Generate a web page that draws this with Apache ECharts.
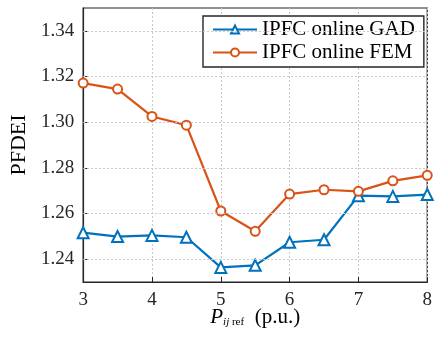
<!DOCTYPE html>
<html>
<head>
<meta charset="utf-8">
<script src="https://cdn.jsdelivr.net/npm/echarts@6/dist/echarts.min.js"></script>
<style>html,body{margin:0;padding:0;background:#fff;}#c{width:435px;height:338px;}</style>
</head>
<body>
<div id="c"></div>
<script>
const xValues = [3, 3.5, 4, 4.5, 5, 5.5, 6, 6.5, 7, 7.5, 8];
const gadValues = [1.2516, 1.2499, 1.2504, 1.2496, 1.2364, 1.2373, 1.2474, 1.2485, 1.2678, 1.2675, 1.2683];
const femValues = [1.3171, 1.3145, 1.3025, 1.2987, 1.2611, 1.2522, 1.2685, 1.2704, 1.2697, 1.2743, 1.2767];
const yTicks = [1.24, 1.26, 1.28, 1.30, 1.32, 1.34];
const xTicks = [3, 4, 5, 6, 7, 8];
const seriesNames = ['IPFC online GAD', 'IPFC online FEM'];

const FONT = "'Liberation Serif', 'Times New Roman', serif";
const BLUE = '#0072BD';
const ORANGE = '#D95319';
const AX = '#262626';

const pair = (vals) => xValues.map((x, i) => [x, vals[i]]);

const chart = echarts.init(document.getElementById('c'), null, {renderer: 'canvas'});
chart.setOption({
  animation: false,
  backgroundColor: '#fff',
  textStyle: {fontFamily: FONT},
  grid: {left: 83, right: 3, top: 8, bottom: 56, show: true, borderColor: AX, borderWidth: 1.2, containLabel: false},
  legend: {
    data: seriesNames,
    orient: 'vertical',
    left: 203, top: 16,
    padding: [3, 9, 4, 9],
    itemWidth: 44, itemHeight: 10, itemGap: 2,
    backgroundColor: '#fff',
    borderColor: AX, borderWidth: 1.4, borderRadius: 0,
    textStyle: {fontFamily: FONT, fontSize: 21, color: '#000'}
  },
  xAxis: {
    type: 'value', min: 3, max: 8, interval: 1,
    name: '{i|P}{s|ij}{r| ref}  (p.u.)',
    nameLocation: 'middle', nameGap: 25, nameMoveOverlap: false,
    nameTextStyle: {
      fontFamily: FONT, fontSize: 21, color: '#000', verticalAlign: 'top',
      rich: {
        i: {fontFamily: FONT, fontSize: 21, fontStyle: 'italic', color: '#000'},
        s: {fontFamily: FONT, fontSize: 11, fontStyle: 'italic', color: '#000', padding: [10, 0, 0, 0]},
        r: {fontFamily: FONT, fontSize: 11, color: '#000', padding: [10, 0, 0, 0]}
      }
    },
    axisLine: {show: true, lineStyle: {color: AX, width: 1.2}},
    axisTick: {show: true, inside: true, length: 5, lineStyle: {color: AX, width: 1}},
    axisLabel: {fontFamily: FONT, fontSize: 19, color: '#262626', margin: 9},
    splitLine: {show: true, lineStyle: {color: '#c8c8c8', type: [2, 2], width: 1}}
  },
  yAxis: {
    type: 'value', min: 1.23, max: 1.35,
    name: 'PFDEI', nameLocation: 'middle', nameGap: 53,
    nameTextStyle: {fontFamily: FONT, fontSize: 22, color: '#000'},
    axisLine: {show: true, lineStyle: {color: AX, width: 1.2}},
    axisTick: {show: true, inside: true, length: 5, customValues: yTicks, lineStyle: {color: AX, width: 1}},
    axisLabel: {fontFamily: FONT, fontSize: 19, color: '#262626', margin: 9, customValues: yTicks,
      formatter: (v) => v.toFixed(2)},
    splitLine: {show: false}
  },
  series: [
    {
      name: seriesNames[0], type: 'line', data: pair(gadValues),
      symbol: 'triangle', symbolSize: 11,
      lineStyle: {color: BLUE, width: 2.2},
      itemStyle: {color: '#fff', borderColor: BLUE, borderWidth: 2},
      z: 3,
      markLine: {
        silent: true, symbol: 'none', label: {show: false},
        lineStyle: {color: '#c8c8c8', type: [2, 2], width: 1},
        emphasis: {disabled: true},
        data: yTicks.map(v => ({yAxis: v}))
      }
    },
    {
      name: seriesNames[1], type: 'line', data: pair(femValues),
      symbol: 'circle', symbolSize: 9,
      lineStyle: {color: ORANGE, width: 2.2},
      itemStyle: {color: '#fff', borderColor: ORANGE, borderWidth: 2},
      z: 4
    }
  ]
});
</script>
</body>
</html>
